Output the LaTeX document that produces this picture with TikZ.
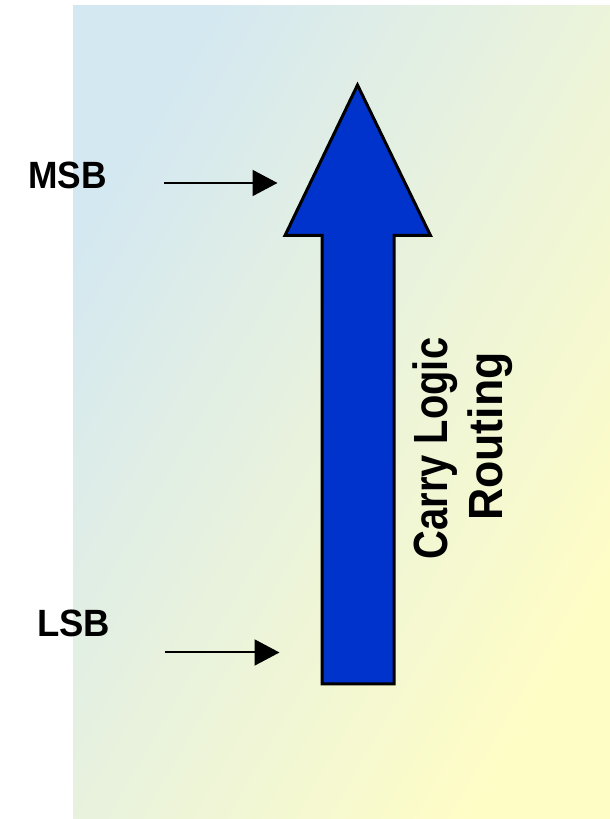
\documentclass[tikz,border=0pt]{standalone}
\usepackage{fontspec}
\setmainfont{Liberation Sans}
\usetikzlibrary{arrows.meta}
\definecolor{bgblue}{HTML}{D4E8F1}
\definecolor{bgyellow}{HTML}{FFFDC6}
\definecolor{carryblue}{HTML}{0033CC}
\tikzset{
  bitlabel/.style={font=\bfseries\fontsize{38}{44}\selectfont, anchor=base, inner sep=0pt},
  routelabel/.style={font=\bfseries\fontsize{48}{55}\selectfont, anchor=base, rotate=90, inner sep=0pt},
  pointer/.style={line width=2pt, -{Triangle[length=25pt,width=26pt]}},
  bigarrow/.style={fill=carryblue, draw=black, line width=3pt, line join=miter}
}
\begin{document}
\begin{tikzpicture}[x=1pt,y=1pt]
  \useasboundingbox (0,0) rectangle (610,819);
  % shaded backdrop
  \path[top color=bgblue, bottom color=bgyellow, shading angle=60]
    (73,0) rectangle (610,813);
  % carry chain arrow
  \coordinate (tip) at (357.5,734);
  \coordinate (headR) at (430.5,583.5);
  \coordinate (headL) at (285,583.5);
  \coordinate (shaftTR) at (394,583.5);
  \coordinate (shaftTL) at (322,583.5);
  \coordinate (shaftBR) at (394,135);
  \coordinate (shaftBL) at (322,135);
  \draw[bigarrow] (tip) -- (headR) -- (shaftTR) -- (shaftBR) -- (shaftBL)
    -- (shaftTL) -- (headL) -- cycle;
  % labels
  \node[bitlabel] (msb) at (67.5,630) {\scalebox{0.93}[1]{MSB}};
  \node[bitlabel] (lsb) at (73.5,182) {\scalebox{0.96}[1]{LSB}};
  \node[routelabel] (carry) at (447.5,370.5) {\scalebox{0.83}[1]{Carry Logic}};
  \node[routelabel] (routing) at (502,382.5) {\scalebox{0.93}[1]{Routing}};
  % bit pointers
  \coordinate (msbA) at (164,636);
  \coordinate (msbB) at (277.5,636);
  \coordinate (lsbA) at (165,166.5);
  \coordinate (lsbB) at (279.5,166.5);
  \draw[pointer] (msbA) -- (msbB);
  \draw[pointer] (lsbA) -- (lsbB);
\end{tikzpicture}
\end{document}
